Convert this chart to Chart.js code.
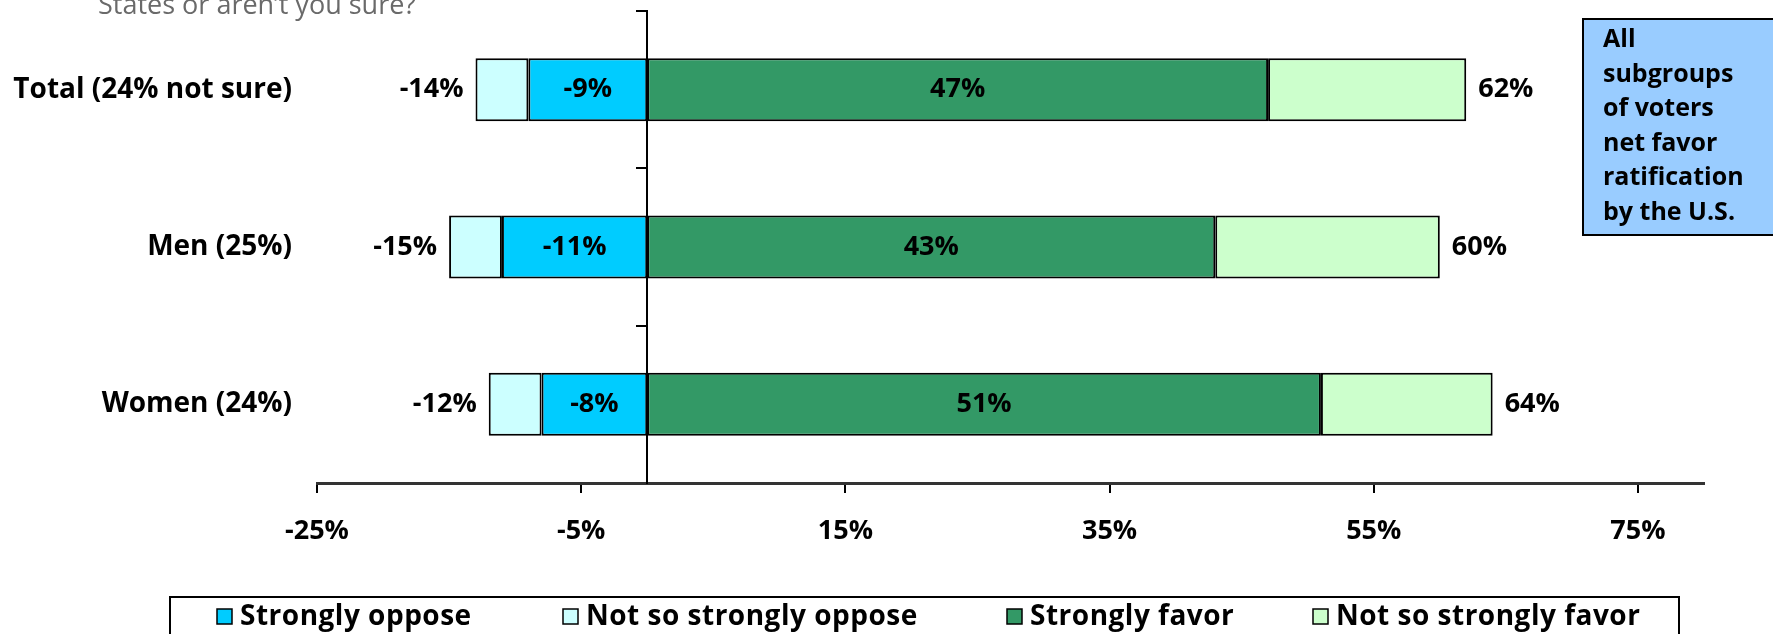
<!DOCTYPE html>
<html>
<head>
<meta charset="utf-8">
<script src="https://cdn.jsdelivr.net/npm/chart.js@4.4.1/dist/chart.umd.min.js"></script>
<style>
  html, body { margin: 0; padding: 0; background: #fff; }
</style>
</head>
<body>
<canvas id="myChart" width="1773" height="634"></canvas>
<script>
// ==========================================
// Data
// ==========================================

const labels = ["Total (24% not sure)", "Men (25%)", "Women (24%)"];
const strongOppose = [-9, -11, -8];
const softOppose = [-4, -4, -4];
const strongFavor = [47, 43, 51];
const softFavor = [15, 17, 13];
// net totals printed at the bar ends
const opposeTotals = [-14, -15, -12];
const favorTotals = [62, 60, 64];
const xTicks = [-25, -5, 15, 35, 55, 75];
const seriesNames = ["Strongly oppose", "Not so strongly oppose", "Strongly favor", "Not so strongly favor"];
const seriesColors = ["#00CCFF", "#CCFFFF", "#339966", "#CCFFCC"];
const noteLines = ["All", "subgroups", "of voters", "net favor", "ratification", "by the U.S."];

const FONT = "'Open Sans', sans-serif";
const legendX = [217, 563, 1007, 1313];

// labels on and beside the bars
const barLabels = {
   id: "barLabels",
   afterDatasetsDraw(chart) {
      const c = chart.ctx;
      c.save();
      c.font = "bold 27px " + FONT;
      c.fillStyle = "#000";
      c.textBaseline = "middle";
      [0, 2].forEach((di) => {
         chart.getDatasetMeta(di).data.forEach((bar, i) => {
            c.textAlign = "center";
            c.fillText(chart.data.datasets[di].data[i] + "%", (bar.x + bar.base) / 2, bar.y);
         });
      });
      chart.getDatasetMeta(1).data.forEach((bar, i) => {
         c.textAlign = "right";
         c.fillText(opposeTotals[i] + "%", Math.min(bar.x, bar.base) - 12, bar.y);
      });
      chart.getDatasetMeta(3).data.forEach((bar, i) => {
         c.textAlign = "left";
         c.fillText(favorTotals[i] + "%", Math.max(bar.x, bar.base) + 12, bar.y);
      });
      c.restore();
   }
};

// question text, note box and boxed legend
const extras = {
   id: "extras",
   afterDraw(chart) {
      const c = chart.ctx;
      c.save();
      c.font = "27px " + FONT;
      c.fillStyle = "#6a6a6a";
      c.textAlign = "left";
      c.textBaseline = "alphabetic";
      c.fillText("States or aren\u2019t you sure?", 98, 14);

      c.fillStyle = "#99CCFF";
      c.fillRect(1583, 19, 200, 216);
      c.strokeStyle = "#000";
      c.lineWidth = 2;
      c.strokeRect(1583, 19, 200, 216);
      c.fillStyle = "#000";
      c.font = "bold 25px " + FONT;
      c.textBaseline = "middle";
      noteLines.forEach((t, i) => c.fillText(t, 1603, 40 + i * 34.5));

      c.strokeRect(170, 597, 1509, 50);
      c.font = "bold 28px " + FONT;
      c.letterSpacing = "0.5px";
      chart.data.datasets.forEach((ds, i) => {
         const x = legendX[i];
         c.fillStyle = ds.backgroundColor;
         c.fillRect(x, 609, 15, 15);
         c.lineWidth = 1.5;
         c.strokeRect(x, 609, 15, 15);
         c.fillStyle = "#000";
         c.fillText(ds.label, x + 23, 617);
      });
      c.restore();
   }
};

const ctx = document.getElementById("myChart");
const seriesData = [strongOppose, softOppose, strongFavor, softFavor];

let chart = new Chart(ctx, {
   type: "bar",
   data: {
      labels: labels,
      datasets: seriesNames.map((name, i) => ({
         label: name,
         data: seriesData[i],
         backgroundColor: seriesColors[i],
         borderColor: "#000",
         borderWidth: 2,
         borderSkipped: false,
         barPercentage: 0.4,
         categoryPercentage: 1
      }))
   },
   options: {
      indexAxis: "y",
      responsive: false,
      animation: false,
      devicePixelRatio: 1,
      layout: { padding: { top: 11, right: 69, bottom: 81, left: 0 } },
      plugins: {
         legend: { display: false },
         tooltip: { enabled: false }
      },
      scales: {
         x: {
            type: "linear",
            stacked: true,
            min: -25,
            max: 80,
            afterBuildTicks: (s) => { s.ticks = xTicks.map((v) => ({ value: v })); },
            afterFit: (s) => { s.height = 70; },
            grid: { drawOnChartArea: false, tickLength: 10, color: "#000", lineWidth: 2 },
            border: { color: "#333", width: 3 },
            ticks: {
               font: { family: FONT, size: 27, weight: "bold" },
               color: "#000",
               padding: 22,
               maxRotation: 0,
               autoSkip: false,
               callback: (v) => v + "%"
            }
         },
         y: {
            type: "category",
            stacked: true,
            offset: true,
            grid: { display: false, drawTicks: false, offset: true },
            border: { display: false },
            afterFit: (s) => {
               s.width = 317;
               s.paddingTop = 0;
               s.paddingBottom = 0;
            },
            ticks: {
               font: { family: FONT, size: 28, weight: "bold" },
               color: "#000",
               padding: 25
            }
         },
         y2: {
            type: "category",
            axis: "y",
            position: { x: 0 },
            offset: true,
            grid: { offset: true, drawOnChartArea: false, tickLength: 10, color: "#000", lineWidth: 2 },
            border: { color: "#000", width: 2 },
            ticks: { display: false }
         }
      }
   },
   plugins: [barLabels, extras]
});
</script>
</body>
</html>
